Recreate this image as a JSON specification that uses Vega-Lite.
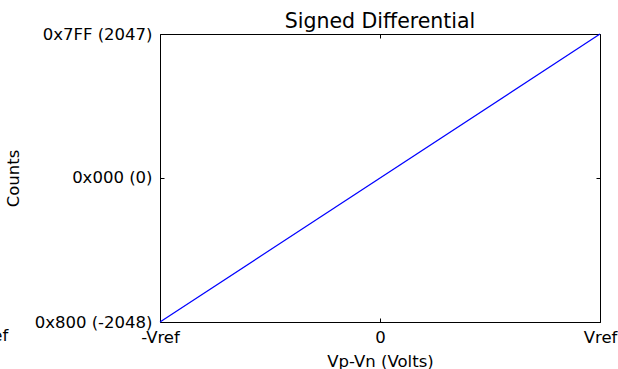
{
  "$schema": "https://vega.github.io/schema/vega-lite/v6.json",
  "autosize": {"type": "none"},
  "width": 440,
  "height": 288,
  "padding": {"left": 160, "top": 34, "right": 18, "bottom": 47},
  "background": "white",
  "config": {
    "font": "DejaVu Sans",
    "view": {"stroke": "black", "strokeWidth": 1},
    "axis": {"grid": false, "domain": false, "labelFont": "DejaVu Sans", "labelFontSize": 16.5, "labelColor": "black", "titleFont": "DejaVu Sans", "titleFontSize": 16.5, "titleFontWeight": "normal", "titleColor": "black", "tickColor": "black", "tickSize": -4, "labelFlush": false, "labelOverlap": false}
  },
  "title": {"text": "Signed Differential", "font": "DejaVu Sans", "fontSize": 20.5, "fontWeight": "normal", "color": "black", "offset": -6, "anchor": "middle"},
  "datasets": {
    "line": [{"v": -1, "count": -2048}, {"v": 1, "count": 2047}],
    "stray": [{"v": -1.69, "count": -2048, "label": "Vref"}]
  },
  "layer": [
    {
      "data": {"name": "line"},
      "mark": {"type": "line", "color": "#0000ff", "strokeWidth": 1.2},
      "encoding": {
        "x": {"field": "v", "type": "quantitative", "scale": {"domain": [-1, 1], "nice": false, "zero": false},
          "axis": {"orient": "bottom", "values": [-1, 0, 1], "labelExpr": "datum.value < 0 ? '-Vref' : (datum.value > 0 ? 'Vref' : '0')", "title": "Vp-Vn (Volts)", "labelPadding": 11, "titlePadding": 8}},
        "y": {"field": "count", "type": "quantitative", "scale": {"domain": [-2048, 2047], "nice": false, "zero": false},
          "axis": {"orient": "left", "values": [-2048, 0, 2047], "labelExpr": "datum.value == 2047 ? '0x7FF (2047)' : (datum.value == 0 ? '0x000 (0)' : '0x800 (-2048)')", "title": "Counts", "labelPadding": 12, "titlePadding": 13}}
      }
    },
    {
      "data": {"name": "line"},
      "mark": {"type": "line", "opacity": 0},
      "encoding": {
        "x": {"field": "v", "type": "quantitative", "axis": {"orient": "top", "values": [-1, 0, 1], "labels": false, "title": null}},
        "y": {"field": "count", "type": "quantitative", "axis": {"orient": "right", "values": [-2048, 0, 2047], "labels": false, "title": null}}
      }
    },
    {
      "data": {"name": "stray"},
      "mark": {"type": "text", "align": "right", "baseline": "top", "fontSize": 16.5, "font": "DejaVu Sans", "color": "black", "dy": 6},
      "encoding": {
        "x": {"field": "v", "type": "quantitative", "axis": null},
        "y": {"field": "count", "type": "quantitative", "axis": null},
        "text": {"field": "label"}
      }
    }
  ],
  "resolve": {"axis": {"x": "independent", "y": "independent"}}
}
